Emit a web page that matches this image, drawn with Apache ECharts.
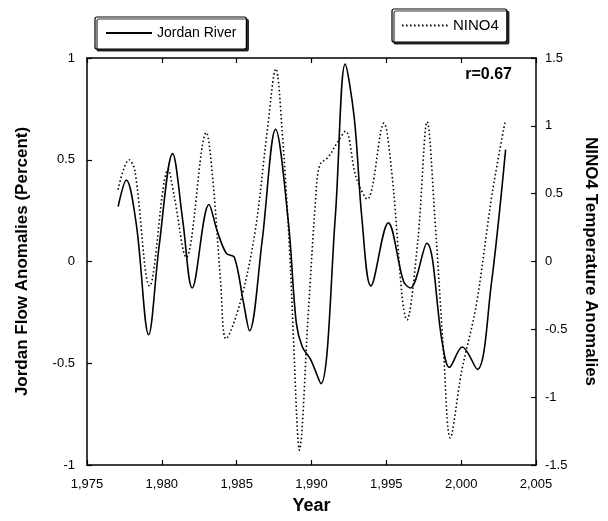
<!DOCTYPE html>
<html>
<head>
<meta charset="utf-8">
<script src="https://cdn.jsdelivr.net/npm/echarts@6/dist/echarts.min.js"></script>
<style>
  html, body { margin: 0; padding: 0; background: #fff; }
  #chart { width: 608px; height: 521px; }
</style>
</head>
<body>
<div id="chart"></div>
<script>
// Jordan River flow anomalies (left axis, fraction)
const jordanYears = [1977.08, 1977.63, 1978.3, 1979.12, 1979.81, 1980.72, 1981.4, 1982.03, 1983.15, 1983.7,
  1984.31, 1984.85, 1985.45, 1985.86, 1986.7, 1987.6, 1988.46, 1988.98, 1989.39, 1989.93, 1990.63,
  1991.59, 1992.25, 1992.85, 1993.37, 1993.97, 1995.13, 1996.16, 1996.6, 1997.7, 1998.74, 1999.21,
  2000.07, 2001.08, 2002.0, 2002.97];
const jordanValues = [0.27, 0.4, 0.18, -0.36, 0.07, 0.53, 0.2, -0.13, 0.28, 0.15,
  0.04, 0.02, -0.2, -0.34, 0.1, 0.65, 0.19, -0.3, -0.42, -0.48, -0.6,
  0.22, 0.97, 0.71, 0.21, -0.12, 0.19, -0.1, -0.13, 0.09, -0.4, -0.52,
  -0.42, -0.53, -0.12, 0.55];

// NINO4 temperature anomalies (right axis, deg C)
const ninoYears = [1977.07, 1977.81, 1978.2, 1979.19, 1980.43, 1980.83, 1981.63, 1982.97, 1983.41, 1983.93,
  1984.29, 1985.24, 1986.23, 1987.04, 1987.62, 1988.04, 1988.53, 1988.83, 1989.05, 1989.18, 1989.77,
  1990.27, 1990.55, 1991.12, 1991.69, 1992.27, 1992.98, 1993.73, 1994.84, 1995.33, 1996.39,
  1997.11, 1997.73, 1998.25, 1998.83, 1999.27, 2000.03, 2001.01, 2002.07, 2002.95];
const ninoValues = [0.53, 0.75, 0.67, -0.18, 0.68, 0.48, 0.03, 0.95, 0.6, -0.15,
  -0.57, -0.3, 0.22, 0.96, 1.42, 0.96, 0.09, -0.66, -1.23, -1.39, -0.41,
  0.45, 0.71, 0.77, 0.87, 0.96, 0.62, 0.46, 1.02, 0.69, -0.43,
  0.16, 1.03, 0.31, -0.68, -1.3, -0.81, -0.32, 0.5, 1.04];

const yearTicks = [1975, 1980, 1985, 1990, 1995, 2000, 2005];
const flowTicks = [-1, -0.5, 0, 0.5, 1];
const ninoTicks = [-1.5, -1, -0.5, 0, 0.5, 1, 1.5];
const corrText = "r=0.67";

const fontFamily = "'Liberation Sans', Arial, sans-serif";
const axisLine = { show: true, onZero: false, lineStyle: { color: "#000", width: 1.5 } };
const axisTick = { show: true, inside: true, length: 5, lineStyle: { color: "#000", width: 1.2 } };

const pairs = (xs, ys) => xs.map((x, i) => [x, ys[i]]);

const legendBox = {
  padding: [9, 10, 9, 10],
  itemWidth: 46, itemHeight: 14, itemGap: 6,
  itemStyle: { opacity: 0 },
  backgroundColor: "#fff",
  borderColor: "#000", borderWidth: 1.2, borderRadius: 2,
  shadowColor: "rgba(0,0,0,0.8)", shadowOffsetX: 2, shadowOffsetY: 2
};

const chart = echarts.init(document.getElementById("chart"));
chart.setOption({
  backgroundColor: "#fff",
  animation: false,
  grid: { left: 87, right: 72, top: 58, bottom: 56, show: false },
  legend: [
    Object.assign({}, legendBox, {
      data: ["Jordan River"],
      left: 95, top: 17,
      textStyle: { fontFamily, fontSize: 14, color: "#000" }
    }),
    Object.assign({}, legendBox, {
      data: ["NINO4"],
      left: 392, top: 9,
      padding: [9, 8, 9, 9],
      textStyle: { fontFamily, fontSize: 15, color: "#000" }
    })
  ],
  xAxis: [
    {
      type: "value",
      min: yearTicks[0], max: yearTicks[yearTicks.length - 1], interval: 5,
      name: "Year", nameLocation: "middle", nameGap: 32,
      nameTextStyle: { fontFamily, fontSize: 18, fontWeight: "bold", color: "#000" },
      axisLine, axisTick,
      axisLabel: { fontFamily, fontSize: 13, color: "#000", margin: 13 },
      splitLine: { show: false }
    },
    {
      type: "value", position: "top",
      min: yearTicks[0], max: yearTicks[yearTicks.length - 1], interval: 5,
      axisLine, axisTick,
      axisLabel: { show: false },
      splitLine: { show: false }
    }
  ],
  yAxis: [
    {
      type: "value",
      min: flowTicks[0], max: flowTicks[flowTicks.length - 1], interval: 0.5,
      name: "Jordan Flow Anomalies (Percent)", nameLocation: "middle", nameGap: 56,
      nameTextStyle: { fontFamily, fontSize: 17, fontWeight: "bold", color: "#000" },
      axisLine, axisTick,
      axisLabel: { fontFamily, fontSize: 13, color: "#000", margin: 12 },
      splitLine: { show: false }
    },
    {
      type: "value", position: "right",
      min: ninoTicks[0], max: ninoTicks[ninoTicks.length - 1], interval: 0.5,
      name: "NINO4 Temperature Anomalies", nameLocation: "middle", nameGap: 46, nameRotate: -90,
      nameTextStyle: { fontFamily, fontSize: 17, fontWeight: "bold", color: "#000" },
      axisLine, axisTick,
      axisLabel: { fontFamily, fontSize: 13, color: "#000", margin: 9 },
      splitLine: { show: false }
    }
  ],
  graphic: [
    {
      type: "text", right: 96, top: 67,
      style: { text: corrText, fontFamily, fontSize: 16, fontWeight: "bold", fill: "#000" }
    }
  ],
  series: [
    {
      name: "Jordan River",
      type: "line",
      xAxisIndex: 0, yAxisIndex: 0,
      data: pairs(jordanYears, jordanValues),
      smooth: 0.35,
      symbol: "none",
      lineStyle: { color: "#000", width: 1.6, type: "solid" },
      itemStyle: { color: "#000" }
    },
    {
      name: "NINO4",
      type: "line",
      xAxisIndex: 0, yAxisIndex: 1,
      data: pairs(ninoYears, ninoValues),
      smooth: 0.35,
      symbol: "none",
      lineStyle: { color: "#000", width: 1.6, type: [1.5, 2.5] },
      itemStyle: { color: "#000" }
    }
  ]
});
</script>
</body>
</html>
